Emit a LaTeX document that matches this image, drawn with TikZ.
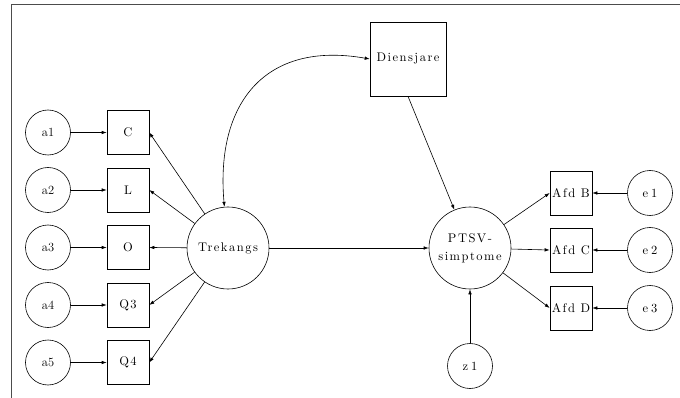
\documentclass[tikz,border=0pt]{standalone}
\usepackage{fontspec}
\usetikzlibrary{arrows.meta}
\newfontfamily\wfam{lmroman10-regular.otf}[LetterSpace=12]
\newfontfamily\efam{lmroman10-regular.otf}[LetterSpace=25]
\newcommand{\labfont}{\fontsize{12.5}{18}\selectfont}
\newcommand{\wfont}{\wfam\fontsize{12.5}{18}\selectfont}
\newcommand{\efont}{\efam\fontsize{12.5}{18}\selectfont}
\tikzset{
  err/.style={circle, draw, minimum size=45pt, inner sep=0pt, font=\labfont},
  obs/.style={rectangle, draw, minimum width=42pt, minimum height=44pt, inner sep=1pt, font=\wfont},
  latent/.style={circle, draw, minimum size=82pt, inner sep=0pt, align=center, font=\wfont},
  pfeil/.style={-{Latex[length=5pt,width=3.5pt]}},
  dpfeil/.style={{Latex[length=5pt,width=3.5pt]}-{Latex[length=5pt,width=3.5pt]}},
}
\begin{document}
\begin{tikzpicture}[x=1pt, y=-1pt, line width=.6pt]
    \useasboundingbox (0,0) rectangle (680,398);
    % Rahmen.
    \draw[black!70, line width=1pt] (11,398) -- (11,4.5) -- (680,4.5);

    % Indikatoren links.
    \foreach \lab [count=\i] in {C,L,O,Q3,Q4}
    {
        \node[err] (a\i) at (48,{132.5+57.5*(\i-1)}) {a\i};
        \node[obs] (\lab) at (128,{132.5+57.5*(\i-1)}) {\lab};
        \draw[pfeil] (a\i) -- (\lab);
    }

    % Latente Variablen.
    \node[latent] (trek) at (228,248) {Trekangs};
    \node[obs, minimum width=76pt, minimum height=74pt] (dien) at (408,59) {Diensjare};
    \node[latent] (ptsv) at (470,248) {PTSV-\\simptome};

    \foreach \lab in {C,L,O,Q3,Q4}
    {
        \draw[pfeil] (trek) -- (\lab.east);
    }

    % Indikatoren rechts.
    \foreach \lab/\y [count=\i] in {B/193,C/250,D/308}
    {
        \node[obs] (afd\lab) at (571,\y) {Afd \lab};
        \node[err, font=\efont] (e\i) at (650,\y) {e\i};
        \draw[pfeil] (e\i) -- (afd\lab);
        \draw[pfeil] (ptsv) -- (afd\lab.west);
    }
    \node[err, font=\efont] (z1) at (470,366) {z1};

    % Pfade.
    \draw[pfeil] (z1) -- (ptsv);
    \draw[pfeil] (trek) -- (ptsv);
    \draw[pfeil] (dien.south) -- (ptsv);
    \draw[dpfeil] (trek.95) to[out=95, in=170, looseness=1.3] (dien.west);
\end{tikzpicture}
\end{document}
